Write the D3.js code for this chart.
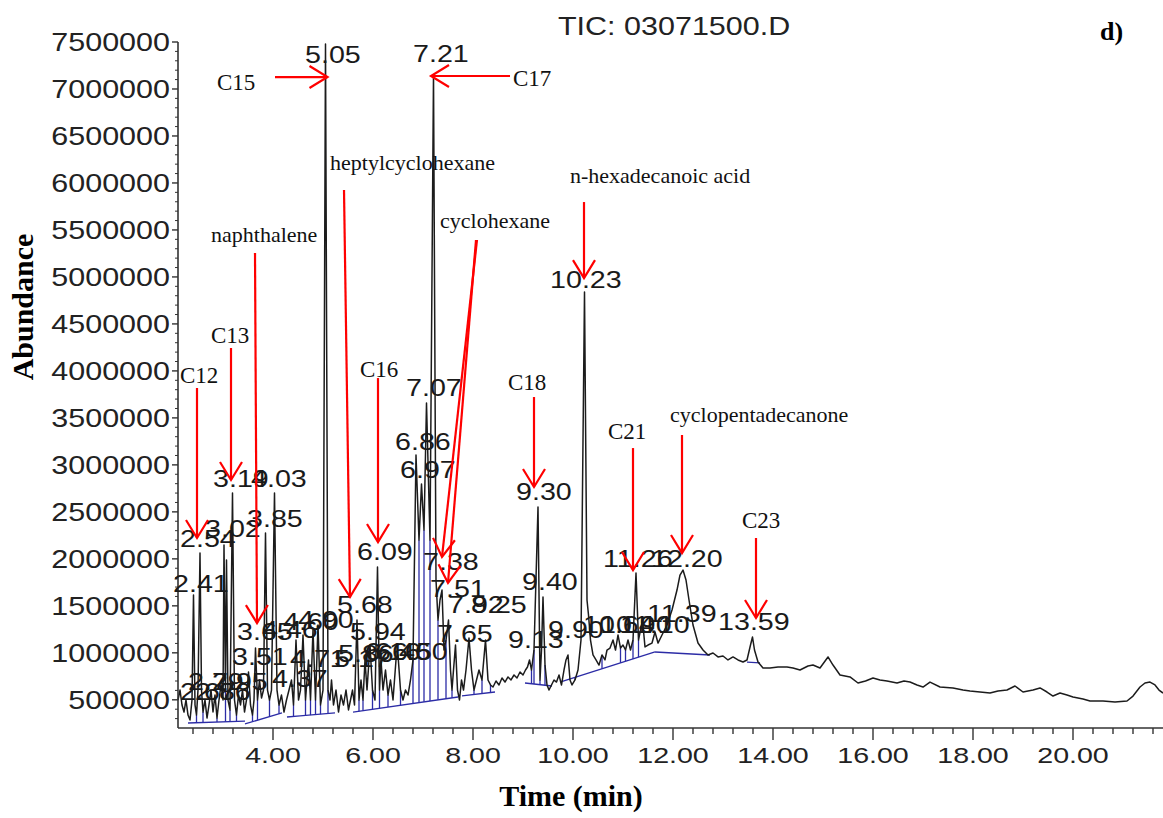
<!DOCTYPE html>
<html><head><meta charset="utf-8">
<script src="https://cdn.jsdelivr.net/npm/d3@7"></script>
<style>body{margin:0;background:#fff}svg{display:block}</style>
</head><body>
<svg id="c" width="1163" height="818"></svg>
<script>
// ---------- DATA ----------
const trace = [
[2.10,498000],[2.14,604000],[2.18,445000],[2.22,370000],[2.26,498000],[2.30,338000],[2.34,285000],[2.38,498000],
[2.41,1615000],[2.44,445000],[2.47,338000],[2.50,604000],[2.54,2062000],[2.57,604000],[2.60,370000],[2.64,498000],
[2.68,306000],[2.72,445000],[2.76,604000],[2.80,370000],[2.84,551000],[2.88,306000],[2.92,498000],[2.96,658000],
[3.00,498000],[3.02,2147000],[3.05,604000],[3.07,1988000],[3.10,498000],[3.14,392000],[3.19,2701000],[3.23,498000],
[3.27,338000],[3.31,551000],[3.35,445000],[3.39,604000],[3.43,370000],[3.47,498000],[3.51,796000],[3.55,445000],
[3.59,338000],[3.62,498000],[3.65,1051000],[3.69,498000],[3.73,711000],[3.77,519000],[3.81,604000],[3.85,2275000],
[3.89,604000],[3.93,498000],[3.97,604000],[4.03,2701000],[4.08,604000],[4.12,445000],[4.17,551000],[4.22,370000],
[4.27,498000],[4.32,604000],[4.37,711000],[4.41,445000],[4.46,1136000],[4.51,498000],[4.55,604000],[4.60,1190000],
[4.65,498000],[4.71,924000],[4.75,498000],[4.80,1243000],[4.85,498000],[4.90,1296000],[4.95,445000],[5.00,604000],
[5.05,7480000],[5.10,604000],[5.14,498000],[5.17,711000],[5.21,445000],[5.26,604000],[5.31,370000],[5.36,551000],
[5.41,445000],[5.46,604000],[5.51,392000],[5.55,498000],[5.59,604000],[5.63,445000],[5.68,1349000],[5.72,498000],
[5.76,711000],[5.80,498000],[5.84,924000],[5.88,604000],[5.94,1083000],[5.99,604000],[6.04,498000],[6.09,1913000],
[6.13,604000],[6.16,924000],[6.20,604000],[6.25,817000],[6.30,551000],[6.35,711000],[6.40,498000],[6.46,924000],
[6.50,977000],[6.55,604000],[6.60,498000],[6.65,604000],[6.70,551000],[6.75,711000],[6.80,924000],[6.86,3105000],
[6.92,2200000],[6.97,2796000],[7.02,2307000],[7.07,3658000],[7.14,2200000],[7.21,7149000],[7.26,1775000],[7.30,1349000],
[7.34,1562000],[7.38,1668000],[7.42,1030000],[7.46,1136000],[7.51,1349000],[7.55,817000],[7.58,604000],[7.61,817000],
[7.65,1083000],[7.69,604000],[7.73,498000],[7.77,711000],[7.81,604000],[7.86,817000],[7.92,1158000],[7.97,817000],
[8.02,604000],[8.07,711000],[8.12,817000],[8.18,711000],[8.25,1136000],[8.30,711000],[8.35,658000],[8.40,636000],
[8.46,700000],[8.52,658000],[8.58,732000],[8.64,689000],[8.70,743000],[8.76,711000],[8.82,764000],[8.88,732000],
[8.94,796000],[9.00,764000],[9.05,817000],[9.09,849000],[9.13,924000],[9.17,817000],[9.22,1030000],[9.30,2552000],
[9.34,711000],[9.37,1030000],[9.40,1594000],[9.44,870000],[9.48,658000],[9.52,604000],[9.57,658000],[9.62,711000],
[9.67,689000],[9.72,764000],[9.77,658000],[9.82,817000],[9.86,924000],[9.90,977000],[9.94,711000],[9.98,658000],
[10.04,711000],[10.10,817000],[10.16,1136000],[10.23,4839000],[10.28,1562000],[10.31,1402000],[10.35,1136000],[10.40,977000],
[10.46,924000],[10.52,870000],[10.58,977000],[10.64,924000],[10.68,1030000],[10.74,1051000],[10.80,1136000],[10.85,1030000],
[10.90,1190000],[10.95,1051000],[11.00,1083000],[11.05,1030000],[11.10,1136000],[11.15,1030000],[11.20,1136000],[11.26,1849000],
[11.31,1136000],[11.35,1243000],[11.39,1349000],[11.44,1062000],[11.50,1083000],[11.58,1104000],[11.64,1222000],[11.70,1104000],
[11.78,1190000],[11.88,1296000],[11.98,1456000],[12.08,1668000],[12.14,1828000],[12.20,1881000],[12.26,1775000],[12.32,1562000],
[12.40,1296000],[12.50,1104000],[12.60,1030000],[12.70,977000],[12.80,998000],[12.90,956000],[13.00,966000],[13.10,924000],
[13.20,956000],[13.30,924000],[13.40,902000],[13.48,924000],[13.55,1083000],[13.59,1168000],[13.63,1030000],[13.70,902000],
[13.80,838000],[13.94,838000],[14.10,849000],[14.28,849000],[14.40,838000],[14.54,817000],[14.70,860000],[14.80,870000],
[14.94,838000],[15.10,956000],[15.20,870000],[15.34,764000],[15.54,743000],[15.70,679000],[15.85,700000],[16.00,732000],
[16.14,711000],[16.28,700000],[16.48,679000],[16.62,700000],[16.74,689000],[16.88,658000],[17.00,636000],[17.14,689000],
[17.34,636000],[17.60,626000],[17.80,604000],[17.94,594000],[18.14,583000],[18.34,572000],[18.50,594000],[18.68,604000],
[18.84,647000],[19.00,583000],[19.20,604000],[19.34,626000],[19.48,583000],[19.60,540000],[19.74,572000],[19.88,551000],
[20.00,530000],[20.20,508000],[20.34,487000],[20.60,487000],[20.84,477000],[21.08,487000],[21.20,540000],[21.34,636000],
[21.44,679000],[21.54,689000],[21.64,658000],[21.72,604000],[21.80,572000]
];

// integration baselines: [t0, v0, t1, v1]
const baselines = [
[2.30,253000,3.44,274000],[3.44,243000,4.18,360000],[4.28,317000,4.54,328000],[4.54,328000,5.24,360000],
[5.60,370000,7.70,530000],[7.78,541000,8.44,583000],[9.04,679000,9.58,647000],[9.74,689000,11.64,1009000],
[11.64,1009000,12.74,977000],[13.48,902000,13.74,892000]
];
// drop lines (times)
const drops = [2.47,2.60,2.88,3.05,3.14,3.27,3.59,3.69,3.93,4.12,4.41,4.65,4.75,4.85,4.95,5.10,
5.72,5.80,5.99,6.13,6.30,6.55,6.80,6.92,7.02,7.14,7.30,7.46,7.58,8.02,8.18,8.35,
9.17,9.22,9.34,9.44,10.04,10.58,10.95,11.05,11.20,11.31];

const yTicks = [500000,1000000,1500000,2000000,2500000,3000000,3500000,4000000,4500000,5000000,5500000,6000000,6500000,7000000,7500000];
const xTicks = [4,6,8,10,12,14,16,18,20];

// peak retention-time labels: [text, t, v] (left/baseline anchor)
const peakLabels = [
["5.05",4.64,7276000],["7.21",6.80,7287000],["10.23",9.54,4882000],["7.07",6.66,3733000],["6.86",6.44,3158000],
["6.97",6.54,2860000],["3.19",2.80,2765000],["4.03",3.56,2765000],["3.02",2.64,2232000],["3.85",3.48,2339000],
["2.54",2.14,2126000],["2.41",2.00,1647000],["6.09",5.68,1988000],["5.68",5.28,1424000],["7.38",7.00,1881000],
["7.51",7.14,1594000],["7.92",7.50,1424000],["8.25",7.96,1424000],["7.65",7.28,1115000],["3.65",3.28,1136000],
["4.46",3.78,1158000],["4.60",4.20,1243000],["4.90",4.50,1264000],["3.51",3.18,870000],["4.37",3.98,636000],
["4.71",4.34,849000],["5.17",5.22,849000],["5.94",5.54,1136000],["5.86",5.30,902000],["6.16",5.84,924000],
["6.46",6.04,924000],["6.50",6.38,924000],["2.67",2.14,498000],["2.79",2.30,604000],["2.86",2.44,498000],
["2.95",2.78,604000],["9.30",8.86,2626000],["9.40",8.98,1668000],["9.13",8.70,1051000],["9.90",9.50,1158000],
["10.64",10.20,1211000],["10.90",10.54,1211000],["11.10",10.94,1211000],["11.39",11.48,1328000],
["11.26",10.60,1913000],["12.20",11.56,1913000],["13.59",12.90,1243000]
];

// compound annotations: [text, t, v]
const compoundLabels = [
["C15",2.88,6989000],["C17",8.80,7031000],["naphthalene",2.76,5372000],["heptylcyclohexane",5.14,6138000],
["cyclohexane",7.34,5520000],["n-hexadecanoic acid",9.94,6000000],["C13",2.76,4297000],["C12",2.14,3871000],
["C16",5.74,3935000],["C18",8.70,3797000],["C21",10.70,3275000],["cyclopentadecanone",11.94,3456000],["C23",13.38,2328000]
];
// arrows: [t0, v0, t1(tip), v1(tip)]
const arrows = [
[4.04,7127000,5.09,7127000],[8.74,7138000,7.16,7138000],[3.64,5254000,3.68,1317000],[3.16,4244000,3.16,2839000],
[2.48,3818000,2.48,2222000],[5.42,5925000,5.54,1594000],[8.08,5393000,7.38,2020000],[8.06,5393000,7.50,1743000],
[6.10,3924000,6.10,2179000],[10.22,5797000,10.22,4988000],[9.22,3722000,9.22,2765000],[11.20,3179000,11.20,1881000],
[12.18,3318000,12.18,2062000],[13.66,2222000,13.66,1371000]
];

// ---------- DRAW ----------
const svg = d3.select("#c");
const x = d3.scaleLinear().domain([2.1,21.8]).range([178,1163]);
const y = d3.scaleLinear().domain([200000,7500000]).range([728,42]);
const sans = "'Liberation Sans', Arial, sans-serif";
const serif = "'Liberation Serif', 'Times New Roman', serif";

// blue baselines and drops
const blue = "#2c2ca6";
const gB = svg.append("g").attr("stroke", blue).attr("stroke-width", 1.3).attr("fill","none");
baselines.forEach(b => {
  gB.append("line").attr("x1", x(b[0])).attr("y1", y(b[1])).attr("x2", x(b[2])).attr("y2", y(b[3]));
});
function traceAt(t){
  const i = d3.bisector(d=>d[0]).left(trace, t);
  if (i<=0) return trace[0][1];
  const a = trace[i-1], b = trace[i];
  if (b[0]===t) return b[1];
  return a[1] + (b[1]-a[1])*(t-a[0])/(b[0]-a[0]);
}
drops.forEach(t => {
  const b = baselines.find(s => t>=s[0] && t<=s[2]);
  if(!b) return;
  const vb = b[1] + (b[3]-b[1])*(t-b[0])/(b[2]-b[0]);
  gB.append("line").attr("x1", x(t)).attr("x2", x(t)).attr("y1", y(vb)).attr("y2", y(traceAt(t)));
});

// trace
svg.append("path").datum(trace)
  .attr("d", d3.line().x(d=>x(d[0])).y(d=>y(d[1])))
  .attr("fill","none").attr("stroke","#1c1c1c").attr("stroke-width",1.5).attr("stroke-linejoin","round");

// axes
const gA = svg.append("g").attr("stroke","#333").attr("stroke-width",1.6);
gA.append("line").attr("x1",x(2.1)).attr("x2",x(2.1)).attr("y1",y(7500000)).attr("y2",y(200000));
gA.append("line").attr("x1",x(2.1)).attr("x2",x(21.8)).attr("y1",y(200000)).attr("y2",y(200000));
d3.range(300000,7500001,100000).forEach(v=>{
  const major = v%500000===0;
  gA.append("line").attr("x1",x(2.1)-(major?6:3)).attr("x2",x(2.1)).attr("y1",y(v)).attr("y2",y(v)).attr("stroke-width",major?1.4:1);
});
d3.range(2.4,21.7,0.4).forEach(t=>{
  const major = Math.abs(t/2-Math.round(t/2))<1e-6;
  gA.append("line").attr("x1",x(t)).attr("x2",x(t)).attr("y1",y(200000)).attr("y2",y(200000)+(major?12:6)).attr("stroke-width",1.4);
});
yTicks.forEach(v=>{
  svg.append("g").attr("transform",`translate(${x(2.1)-8},${y(v)+9}) scale(1.22,1)`)
    .append("text").attr("text-anchor","end").attr("font-family",sans).attr("font-size",25).attr("fill","#222")
    .text(d3.format("d")(v));
});
xTicks.forEach(t=>{
  svg.append("g").attr("transform",`translate(${x(t)},${763}) scale(1.3,1)`)
    .append("text").attr("text-anchor","middle").attr("font-family",sans).attr("font-size",22).attr("fill","#222")
    .text(d3.format(".2f")(t));
});

// titles
svg.append("g").attr("transform","translate(558,35) scale(1.22,1)").append("text")
  .attr("font-family",sans).attr("font-size",25).attr("fill","#222").text("TIC: 03071500.D");
svg.append("text").attr("x",1100).attr("y",40).attr("font-family",serif).attr("font-weight","bold").attr("font-size",26).text("d)");
svg.append("text").attr("transform","translate(33,307) rotate(-90)").attr("text-anchor","middle")
  .attr("font-family",serif).attr("font-weight","bold").attr("font-size",30).text("Abundance");
svg.append("text").attr("x",571).attr("y",806).attr("text-anchor","middle")
  .attr("font-family",serif).attr("font-weight","bold").attr("font-size",30).text("Time (min)");

// peak labels
peakLabels.forEach(p=>{
  svg.append("g").attr("transform",`translate(${x(p[1])},${y(p[2])}) scale(1.22,1)`)
    .append("text").attr("font-family",sans).attr("font-size",23.5).attr("fill","#1a1a1a").text(p[0]);
});

// red arrows
const gR = svg.append("g").attr("stroke","#ff0000").attr("stroke-width",2.2).attr("fill","none");
arrows.forEach(a=>{
  const x0=x(a[0]), y0=y(a[1]), x1=x(a[2]), y1=y(a[3]);
  gR.append("line").attr("x1",x0).attr("y1",y0).attr("x2",x1).attr("y2",y1);
  const L=Math.hypot(x1-x0,y1-y0), ux=(x1-x0)/L, uy=(y1-y0)/L, px=-uy, py=ux;
  const bx=x1-ux*18, by=y1-uy*18;
  gR.append("path").attr("d",`M${bx+px*11},${by+py*11}L${x1},${y1}L${bx-px*11},${by-py*11}`);
});
compoundLabels.forEach(c=>{
  const isC = /^C\d/.test(c[0]);
  svg.append("text").attr("x",x(c[1])).attr("y",y(c[2])).attr("font-family",serif)
    .attr("font-size",isC?23:22).attr("fill","#111").text(c[0]);
});
</script>
</body></html>
